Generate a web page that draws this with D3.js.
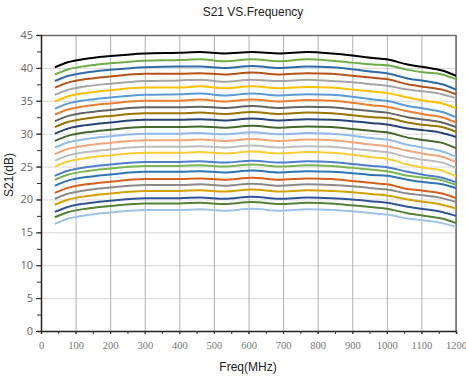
<!DOCTYPE html>
<html>
<head>
<meta charset="utf-8">
<script src="https://cdn.jsdelivr.net/npm/d3@7"></script>
<style>
  body { margin: 0; background: #fff; }
  svg { display: block; font-family: "Liberation Sans", Arial, sans-serif; }
</style>
</head>
<body>
<svg id="chart"></svg>
<script>
// frequency points (MHz)
const freqs = [40, 80, 130, 200, 300, 400, 460, 530, 610, 690, 770, 840, 900, 960, 1000, 1060, 1110, 1160, 1200];

// S21 traces, top to bottom
const s01 = [40.1, 40.9, 41.4, 41.8, 42.2, 42.3, 42.4, 42.2, 42.4, 42.2, 42.4, 42.2, 41.9, 41.5, 41.3, 40.5, 40.1, 39.6, 38.8];
const s02 = [39.0, 39.8, 40.3, 40.7, 41.1, 41.2, 41.3, 41.0, 41.3, 41.0, 41.3, 41.1, 40.8, 40.5, 40.4, 39.7, 39.3, 39.0, 38.3];
const s03 = [38.0, 38.8, 39.3, 39.7, 40.1, 40.2, 40.2, 40.0, 40.3, 40.0, 40.2, 40.1, 39.8, 39.4, 39.2, 38.4, 38.0, 37.5, 36.7];
const s04 = [37.0, 37.8, 38.3, 38.7, 39.1, 39.1, 39.2, 39.0, 39.3, 39.0, 39.2, 39.1, 38.8, 38.5, 38.3, 37.5, 37.1, 36.7, 36.0];
const s05 = [35.9, 36.7, 37.2, 37.6, 38.0, 38.1, 38.2, 37.9, 38.2, 38.0, 38.2, 38.0, 37.8, 37.5, 37.3, 36.7, 36.4, 36.0, 35.4];
const s06 = [34.9, 35.7, 36.2, 36.6, 37.0, 37.0, 37.2, 36.9, 37.2, 36.9, 37.1, 37.0, 36.7, 36.4, 36.2, 35.5, 35.0, 34.6, 33.9];
const s07 = [33.8, 34.6, 35.1, 35.5, 35.9, 36.0, 36.1, 35.8, 36.1, 35.8, 36.0, 35.9, 35.6, 35.2, 35.0, 34.2, 33.8, 33.3, 32.5];
const s08 = [32.9, 33.7, 34.2, 34.6, 35.0, 35.0, 35.2, 34.9, 35.2, 34.9, 35.1, 35.0, 34.7, 34.3, 34.1, 33.4, 32.9, 32.5, 31.7];
const s09 = [31.9, 32.7, 33.2, 33.6, 34.0, 34.0, 34.1, 33.9, 34.2, 33.9, 34.1, 34.0, 33.7, 33.4, 33.2, 32.5, 32.1, 31.7, 31.0];
const s10 = [31.0, 31.8, 32.3, 32.7, 33.1, 33.1, 33.2, 33.0, 33.3, 33.0, 33.2, 33.1, 32.8, 32.5, 32.4, 31.7, 31.3, 31.0, 30.3];
const s11 = [30.0, 30.8, 31.3, 31.7, 32.1, 32.1, 32.2, 32.0, 32.3, 32.0, 32.2, 32.1, 31.9, 31.6, 31.4, 30.8, 30.5, 30.1, 29.5];
const s12 = [28.9, 29.7, 30.2, 30.6, 31.0, 31.0, 31.1, 30.9, 31.2, 30.9, 31.1, 31.0, 30.7, 30.4, 30.2, 29.4, 29.0, 28.6, 27.8];
const s13 = [27.9, 28.7, 29.2, 29.6, 30.0, 30.0, 30.1, 29.9, 30.2, 29.9, 30.1, 30.0, 29.7, 29.3, 29.1, 28.3, 27.8, 27.3, 26.5];
const s14 = [26.9, 27.7, 28.2, 28.6, 29.0, 29.0, 29.1, 28.9, 29.2, 28.9, 29.1, 29.0, 28.7, 28.3, 28.1, 27.4, 26.9, 26.5, 25.7];
const s15 = [25.9, 26.7, 27.2, 27.6, 28.0, 28.0, 28.1, 27.9, 28.2, 27.9, 28.1, 28.0, 27.7, 27.4, 27.2, 26.4, 26.0, 25.6, 24.8];
const s16 = [25.0, 25.8, 26.3, 26.7, 27.1, 27.1, 27.2, 27.0, 27.3, 27.0, 27.2, 27.1, 26.8, 26.4, 26.2, 25.3, 24.8, 24.4, 23.5];
const s17 = [23.6, 24.4, 24.9, 25.3, 25.7, 25.7, 25.8, 25.6, 25.9, 25.6, 25.8, 25.7, 25.4, 25.1, 24.9, 24.2, 23.7, 23.3, 22.6];
const s18 = [23.0, 23.8, 24.3, 24.7, 25.1, 25.1, 25.2, 25.0, 25.3, 25.0, 25.2, 25.1, 24.8, 24.5, 24.3, 23.6, 23.3, 22.9, 22.2];
const s19 = [22.1, 22.9, 23.4, 23.8, 24.2, 24.2, 24.3, 24.1, 24.4, 24.1, 24.3, 24.2, 24.0, 23.7, 23.6, 23.0, 22.6, 22.3, 21.7];
const s20 = [21.0, 21.8, 22.3, 22.7, 23.1, 23.1, 23.2, 23.0, 23.3, 23.0, 23.2, 23.1, 22.8, 22.5, 22.3, 21.6, 21.3, 20.9, 20.2];
const s21 = [20.1, 20.9, 21.4, 21.8, 22.2, 22.2, 22.3, 22.1, 22.4, 22.1, 22.3, 22.2, 22.0, 21.7, 21.5, 20.9, 20.6, 20.2, 19.6];
const s22 = [19.2, 20.0, 20.5, 20.9, 21.3, 21.3, 21.4, 21.2, 21.5, 21.2, 21.4, 21.3, 21.1, 20.8, 20.6, 20.0, 19.6, 19.2, 18.6];
const s23 = [18.1, 18.9, 19.4, 19.8, 20.2, 20.2, 20.3, 20.1, 20.4, 20.1, 20.3, 20.2, 20.0, 19.7, 19.5, 18.9, 18.5, 18.1, 17.5];
const s24 = [17.3, 18.1, 18.6, 19.0, 19.4, 19.4, 19.5, 19.3, 19.6, 19.3, 19.5, 19.4, 19.1, 18.8, 18.6, 17.9, 17.5, 17.1, 16.4];
const s25 = [16.3, 17.1, 17.6, 18.0, 18.4, 18.4, 18.5, 18.3, 18.6, 18.3, 18.5, 18.4, 18.2, 17.9, 17.7, 17.1, 16.8, 16.4, 15.8];

const series = [s01, s02, s03, s04, s05, s06, s07, s08, s09, s10, s11, s12, s13,
                s14, s15, s16, s17, s18, s19, s20, s21, s22, s23, s24, s25];
const colors = ["#000000", "#70ad47", "#2e6ca8", "#b4531a", "#a5a5a5", "#ffc000", "#5b9bd5",
                "#ed7d31", "#636363", "#997300", "#264478", "#43682b", "#8fbbe6", "#f4a57a",
                "#bdbdbd", "#ffcd33", "#4f7fd0", "#7cb552", "#2e75b6", "#d6611a", "#8a8a8a",
                "#d4a000", "#2f5597", "#548235", "#9dc3e6"];

const xTicks = [0, 100, 200, 300, 400, 500, 600, 700, 800, 900, 1000, 1100, 1200];
const yTicks = [0, 5, 10, 15, 20, 25, 30, 35, 40, 45];

const W = 466, H = 379;
const margin = {top: 35, right: 10, bottom: 48, left: 41};
const width = W - margin.left - margin.right;
const height = H - margin.top - margin.bottom;

const svg = d3.select("#chart").attr("width", W).attr("height", H);

const x = d3.scaleLinear().domain([0, 1200]).range([0, width]);
const y = d3.scaleLinear().domain([0, 45]).range([height, 0]);

const g = svg.append("g").attr("transform", "translate(" + margin.left + "," + margin.top + ")");

// grid
g.append("g").attr("class", "grid y")
    .call(d3.axisLeft(y).tickValues(yTicks).tickSize(-width).tickFormat(""))
    .call(s => s.select(".domain").remove())
    .selectAll("line").attr("stroke", "#d9d9d9");
g.append("g").attr("class", "grid x")
    .attr("transform", "translate(0," + height + ")")
    .call(d3.axisBottom(x).tickValues(xTicks).tickSize(-height).tickFormat(""))
    .call(s => s.select(".domain").remove())
    .selectAll("line").attr("stroke", "#b0b0b0");

// frame top/right
g.append("path")
    .attr("d", "M0,0.5H" + width + "V" + height)
    .attr("fill", "none").attr("stroke", "#6e6e6e").attr("stroke-width", 1.5);

// lines
const line = d3.line()
    .x((d, i) => x(freqs[i]))
    .y(d => y(d))
    .curve(d3.curveMonotoneX);

g.selectAll(".trace").data(series).join("path")
    .attr("class", "trace")
    .attr("d", line)
    .attr("fill", "none")
    .attr("stroke", (d, i) => colors[i])
    .attr("stroke-width", 2);

// y axis with minor ticks
const yMinor = d3.range(0, 45.1, 2.5);
g.append("g").call(d3.axisLeft(y).tickValues(yMinor).tickSize(4).tickFormat(""))
    .call(s => s.select(".domain").attr("stroke", "#222").attr("stroke-width", 1.5))
    .selectAll("line").attr("stroke", "#333");
g.append("g").call(d3.axisLeft(y).tickValues(yTicks).tickSize(5))
    .call(s => s.select(".domain").remove())
    .call(s => s.selectAll("line").attr("stroke", "#333"))
    .selectAll("text")
    .attr("fill", "#666").attr("font-size", 11)
    .attr("font-family", "'Open Sans', sans-serif");

// x axis with minor ticks
const xMinor = d3.range(0, 1201, 50);
g.append("g").attr("transform", "translate(0," + height + ")")
    .call(d3.axisBottom(x).tickValues(xMinor).tickSize(3).tickFormat(""))
    .call(s => s.select(".domain").attr("stroke", "#222").attr("stroke-width", 1.5))
    .selectAll("line").attr("stroke", "#333");
g.append("g").attr("transform", "translate(0," + height + ")")
    .call(d3.axisBottom(x).tickValues(xTicks).tickSize(3).tickPadding(8).tickFormat(d3.format("d")))
    .call(s => s.select(".domain").remove())
    .call(s => s.selectAll("line").attr("stroke", "#333"))
    .selectAll("text")
    .attr("fill", "#777").attr("font-size", 10.5)
    .attr("font-family", "'Liberation Serif', serif");

// titles
svg.append("text")
    .attr("x", 253).attr("y", 16)
    .attr("text-anchor", "middle")
    .attr("font-size", 12).attr("fill", "#222")
    .text("S21 VS.Frequency");

svg.append("text")
    .attr("x", 248).attr("y", 371)
    .attr("text-anchor", "middle")
    .attr("font-size", 12).attr("fill", "#222")
    .text("Freq(MHz)");

svg.append("text")
    .attr("transform", "translate(13," + (margin.top + height / 2 - 8) + ") rotate(-90)")
    .attr("text-anchor", "middle")
    .attr("font-size", 12).attr("fill", "#222")
    .text("S21(dB)");
</script>
</body>
</html>
